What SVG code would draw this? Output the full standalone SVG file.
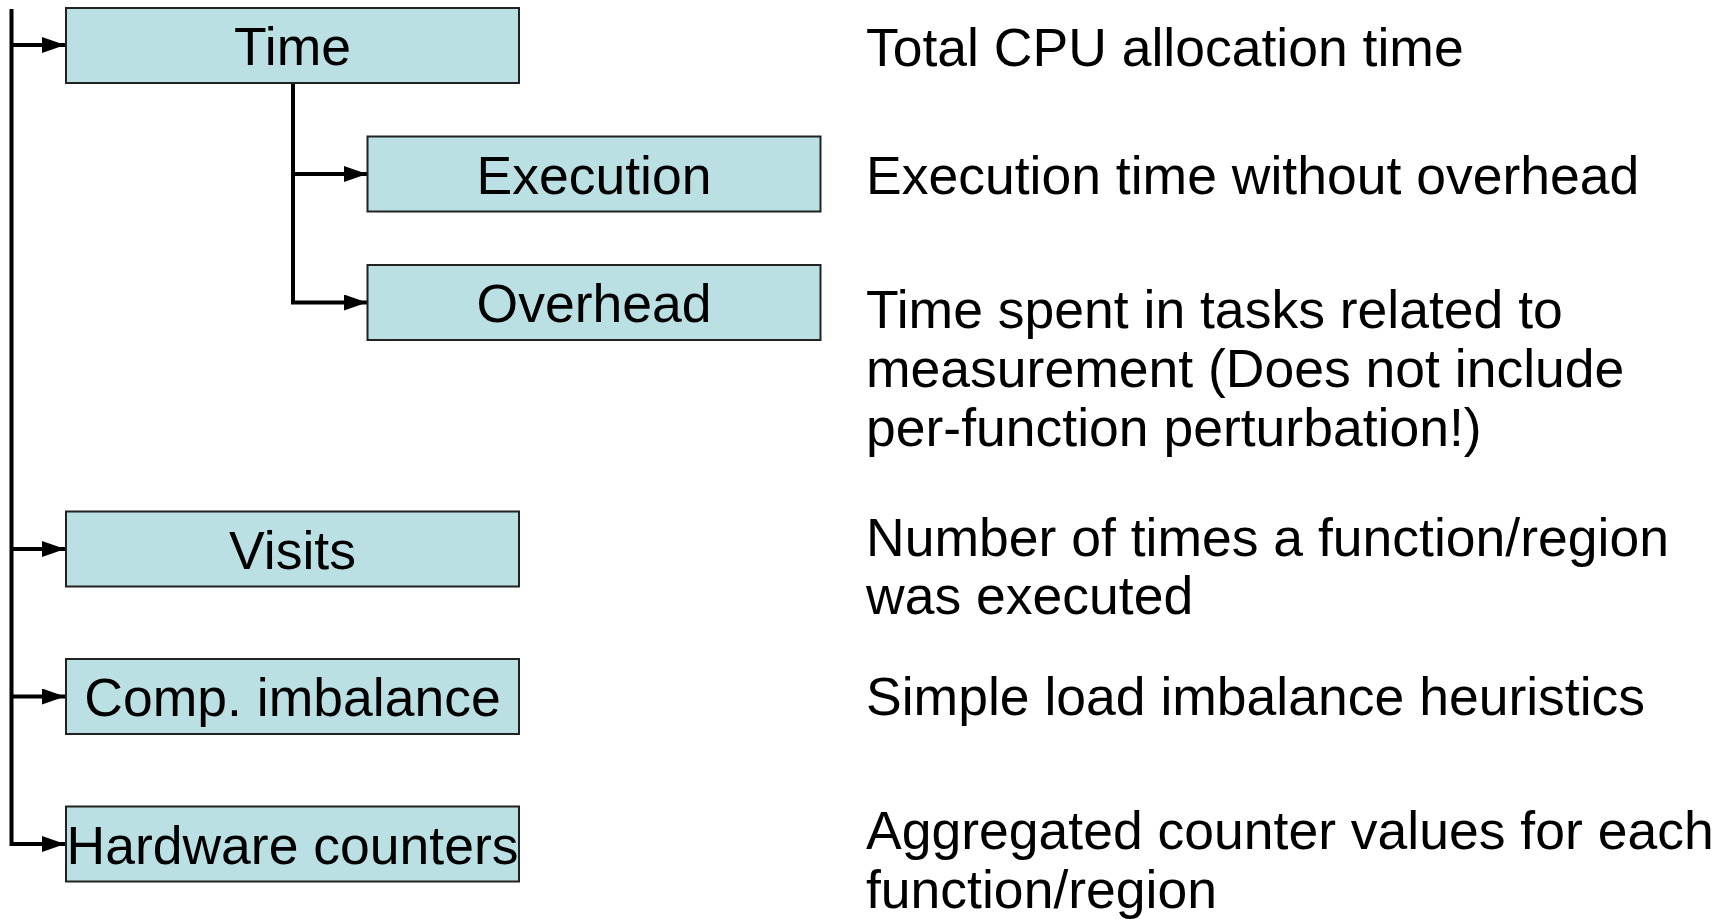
<svg xmlns="http://www.w3.org/2000/svg" width="1725" height="919" viewBox="0 0 1725 919">
<style>
.box{fill:#BBE0E3;stroke:#222222;stroke-width:2}
.lbl{font-family:"Liberation Sans",Arial,sans-serif;font-size:53.5px;fill:#000;text-anchor:middle}
.desc{font-family:"Liberation Sans",Arial,sans-serif;font-size:53.5px;fill:#000}
.con{fill:none;stroke:#000;stroke-width:4}
</style>
<defs>
<marker id="arr" markerUnits="userSpaceOnUse" markerWidth="23" markerHeight="16" refX="23" refY="8" orient="auto">
<path d="M0,0 L23,8 L0,16 z" fill="#000"/>
</marker>
</defs>
<rect width="1725" height="919" fill="#fff"/>
<g id="connectors">
<path class="con" d="M11.5,9 V846"/>
<path class="con" d="M11.5,45 H65" marker-end="url(#arr)"/>
<path class="con" d="M11.5,549 H65" marker-end="url(#arr)"/>
<path class="con" d="M11.5,696.5 H65" marker-end="url(#arr)"/>
<path class="con" d="M11.5,844 H65" marker-end="url(#arr)"/>
<path class="con" d="M293,83 V302.5 H367"  marker-end="url(#arr)"/>
<path class="con" d="M293,174 H367" marker-end="url(#arr)"/>
</g>
<g id="node-time">
<rect class="box" x="66" y="8" width="453" height="75"/>
<text class="lbl" x="292.5" y="65">Time</text>
</g>
<g id="node-execution">
<rect class="box" x="367.5" y="136.5" width="453" height="75"/>
<text class="lbl" x="594" y="193.5">Execution</text>
</g>
<g id="node-overhead">
<rect class="box" x="367.5" y="265" width="453" height="75"/>
<text class="lbl" x="594" y="322">Overhead</text>
</g>
<g id="node-visits">
<rect class="box" x="66" y="511.5" width="453" height="75"/>
<text class="lbl" x="292.5" y="568.5">Visits</text>
</g>
<g id="node-comp">
<rect class="box" x="66" y="659" width="453" height="75"/>
<text class="lbl" x="292.5" y="716">Comp. imbalance</text>
</g>
<g id="node-hw">
<rect class="box" x="66" y="806.5" width="453" height="75"/>
<text class="lbl" x="292.5" y="863.5">Hardware counters</text>
</g>
<g id="descriptions">
<text class="desc" x="866" y="66">Total CPU allocation time</text>
<text class="desc" x="866" y="193.5">Execution time without overhead</text>
<text class="desc" x="866" y="328">Time spent in tasks related to</text>
<text class="desc" x="866" y="387">measurement (Does not include</text>
<text class="desc" x="866" y="446">per-function perturbation!)</text>
<text class="desc" x="866" y="555.5">Number of times a function/region</text>
<text class="desc" x="866" y="614">was executed</text>
<text class="desc" x="866" y="715">Simple load imbalance heuristics</text>
<text class="desc" x="866" y="849">Aggregated counter values for each</text>
<text class="desc" x="866" y="908">function/region</text>
</g>
</svg>
